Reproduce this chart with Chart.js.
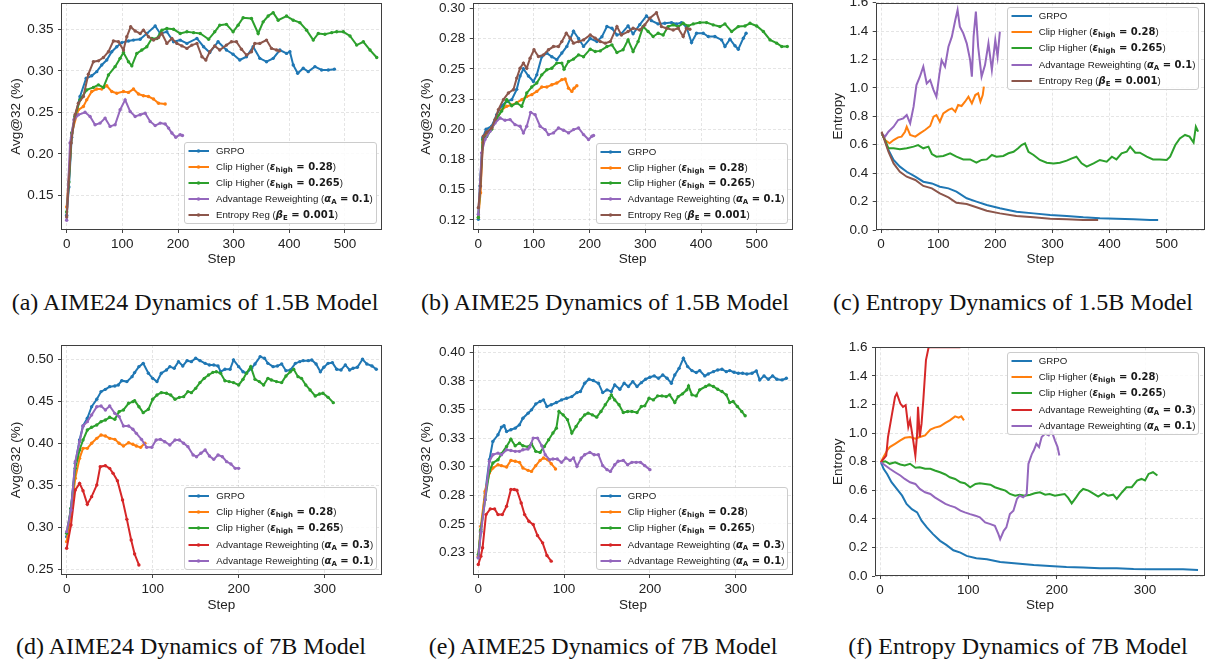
<!DOCTYPE html>
<html><head><meta charset="utf-8">
<script src="https://cdn.jsdelivr.net/npm/chart.js@4.4.1/dist/chart.umd.min.js"></script>
<style>
html,body{margin:0;padding:0;background:#fff;}
#fig{position:relative;width:1212px;height:666px;overflow:hidden;background:#fff;}
canvas{position:absolute;}
.legend{position:absolute;box-sizing:border-box;border:1px solid #cccccc;border-radius:3px;background:rgba(255,255,255,0.85);font-family:'Liberation Sans',Arial,sans-serif;font-size:9.7px;color:#1a1a1a;}
.lrow{position:absolute;left:0;height:16px;line-height:16px;white-space:nowrap;}
.lrow svg{position:absolute;left:3px;top:4px;}
.lrow .lt{position:absolute;left:31px;top:0;}
.mt{font-family:'DejaVu Sans',sans-serif;font-weight:bold;font-size:10px;}
.mt sub{font-size:7px;vertical-align:-2px;line-height:0;}
.cap{position:absolute;width:440px;text-align:center;font-family:'Liberation Serif','Times New Roman',serif;font-size:24px;line-height:24px;color:#111;white-space:nowrap;}
</style></head><body><div id="fig"></div>
<script>
// ---------- tick values / labels ----------
const xTicksLong = [0,100,200,300,400,500];
const xTicksShort = [0,100,200,300];
const yTicksA = [0.15,0.20,0.25,0.30,0.35];
const yLabelsA = ["0.15","0.20","0.25","0.30","0.35"];
const yTicksB = [0.125,0.15,0.175,0.2,0.225,0.25,0.275,0.3];
const yLabelsB = ["0.12","0.15","0.18","0.20","0.23","0.25","0.28","0.30"];
const yTicksEnt = [0,0.2,0.4,0.6,0.8,1.0,1.2,1.4,1.6];
const yLabelsEnt = ["0.0","0.2","0.4","0.6","0.8","1.0","1.2","1.4","1.6"];
const yTicksD = [0.25,0.30,0.35,0.40,0.45,0.50];
const yLabelsD = ["0.25","0.30","0.35","0.40","0.45","0.50"];
const yTicksE = [0.225,0.25,0.275,0.3,0.325,0.35,0.375,0.4];
const yLabelsE = ["0.23","0.25","0.28","0.30","0.33","0.35","0.38","0.40"];

// ---------- (a) AIME24, 1.5B ----------
const a_grpo_x = [0,4,9,15,24,35,45,54,63,72,81,90,99,111,120,132,144,159,168,180,192,204,216,234,246,257,272,287,299,311,323,335,347,359,371,383,395,401,407,415,425,434,446,458,470,481];
const a_grpo_y = [0.126,0.16,0.22,0.245,0.269,0.291,0.294,0.299,0.307,0.313,0.323,0.329,0.334,0.336,0.337,0.338,0.345,0.354,0.345,0.347,0.335,0.337,0.333,0.339,0.329,0.322,0.335,0.325,0.32,0.313,0.317,0.329,0.315,0.311,0.315,0.325,0.321,0.323,0.307,0.297,0.303,0.299,0.305,0.301,0.301,0.302];
const a_clip28_x = [0,9,21,30,36,45,54,63,72,81,90,102,111,120,129,138,147,156,165,177];
const a_clip28_y = [0.136,0.225,0.253,0.257,0.265,0.275,0.278,0.278,0.282,0.275,0.273,0.275,0.274,0.278,0.272,0.27,0.269,0.266,0.261,0.26];
const a_clip265_x = [0,4,9,15,24,36,48,57,66,75,87,96,102,111,117,126,135,144,153,162,171,180,192,204,216,228,240,255,266,275,287,299,308,317,332,344,353,362,371,380,395,407,419,431,443,452,464,476,485,497,509,521,533,545,557];
const a_clip265_y = [0.13,0.166,0.225,0.245,0.265,0.277,0.28,0.283,0.28,0.295,0.305,0.315,0.322,0.311,0.306,0.321,0.325,0.329,0.339,0.339,0.349,0.351,0.35,0.345,0.347,0.346,0.345,0.338,0.347,0.355,0.356,0.347,0.355,0.364,0.363,0.345,0.359,0.366,0.37,0.361,0.366,0.361,0.358,0.349,0.337,0.345,0.344,0.346,0.347,0.347,0.342,0.331,0.335,0.325,0.316];
const a_adv1_x = [0,6,13,21,33,42,51,60,69,78,87,96,105,114,123,132,141,150,159,168,177,183,189,196,204,208];
const a_adv1_y = [0.12,0.213,0.241,0.247,0.25,0.245,0.235,0.237,0.243,0.233,0.235,0.253,0.265,0.251,0.245,0.247,0.249,0.239,0.234,0.237,0.236,0.231,0.225,0.22,0.223,0.222];
const a_ent_x = [0,8,15,21,30,39,48,57,66,75,84,93,102,108,115,123,132,138,147,156,165,171,180,189,198,207,216,225,234,243,250,257,266,275,287,296,305,314,323,332,338,347,359,368,377,382];
const a_ent_y = [0.124,0.213,0.247,0.261,0.269,0.296,0.311,0.312,0.316,0.323,0.336,0.335,0.325,0.341,0.353,0.348,0.345,0.349,0.341,0.337,0.34,0.345,0.333,0.339,0.333,0.33,0.327,0.331,0.333,0.317,0.313,0.323,0.33,0.325,0.331,0.335,0.335,0.326,0.319,0.323,0.333,0.333,0.337,0.327,0.325,0.324];

// ---------- (b) AIME25, 1.5B ----------
const b_grpo_x = [0,3,8,14,24,33,42,51,60,69,75,81,90,99,105,114,123,132,141,150,159,171,180,189,201,213,222,231,240,249,257,269,278,290,302,311,323,335,347,356,365,374,383,392,404,413,425,437,443,452,461,467,476,481];
const b_grpo_y = [0.1255,0.153,0.193,0.2,0.2025,0.212,0.2195,0.223,0.2245,0.233,0.244,0.25,0.244,0.2395,0.245,0.26,0.263,0.26,0.2575,0.263,0.2685,0.281,0.275,0.2685,0.275,0.2725,0.2765,0.285,0.2835,0.278,0.279,0.2855,0.279,0.2865,0.2937,0.2898,0.2871,0.2876,0.2882,0.2871,0.2882,0.2843,0.2717,0.2794,0.2794,0.2767,0.2767,0.2739,0.2684,0.2745,0.269,0.2662,0.2753,0.2794];
const b_clip28_x = [0,4,8,15,24,33,42,51,60,69,78,87,96,105,114,123,132,141,150,156,162,168,172,177];
const b_clip28_y = [0.127,0.1475,0.189,0.197,0.201,0.208,0.216,0.219,0.22,0.222,0.2245,0.227,0.2286,0.2313,0.2349,0.2349,0.2368,0.2382,0.241,0.2415,0.234,0.2313,0.234,0.236];
const b_clip265_x = [0,8,15,24,33,42,51,60,69,78,87,96,105,114,123,132,141,150,154,162,171,180,189,201,210,219,231,240,249,260,269,278,287,296,305,314,323,332,341,350,359,368,377,386,398,410,422,434,443,455,467,479,488,500,512,524,536,545,555];
const b_clip265_y = [0.127,0.1915,0.194,0.2,0.209,0.215,0.2245,0.2195,0.2217,0.219,0.23,0.2349,0.2382,0.245,0.2492,0.2505,0.2547,0.2547,0.2497,0.256,0.258,0.2615,0.26,0.2662,0.2643,0.2648,0.2684,0.2698,0.2635,0.2657,0.2739,0.2643,0.2725,0.2849,0.2808,0.2767,0.2794,0.278,0.2849,0.2863,0.2849,0.2876,0.2854,0.2871,0.2882,0.2882,0.2863,0.2849,0.2871,0.2808,0.2849,0.2854,0.2876,0.2854,0.2808,0.2739,0.2712,0.2684,0.2684];
const b_adv1_x = [0,6,12,21,30,39,48,57,66,75,81,87,94,102,111,120,126,135,144,153,162,171,180,189,198,204,207];
const b_adv1_y = [0.1297,0.1805,0.1915,0.1984,0.2052,0.2093,0.2074,0.208,0.2038,0.2025,0.197,0.2025,0.214,0.2121,0.2025,0.1997,0.1956,0.197,0.2011,0.1992,0.197,0.1997,0.2011,0.1956,0.1915,0.1942,0.1948];
const b_ent_x = [0,4,9,15,24,30,36,45,54,63,69,75,81,87,93,100,108,117,126,135,144,150,158,165,171,180,189,201,210,219,228,237,249,257,269,278,290,299,308,320,329,338,350,359,368,374,380];
const b_ent_y = [0.1352,0.153,0.1942,0.1975,0.2011,0.208,0.2162,0.2245,0.23,0.2327,0.2423,0.2505,0.2547,0.2505,0.2588,0.2657,0.2602,0.2615,0.2657,0.2684,0.2684,0.2725,0.2794,0.2753,0.2712,0.2725,0.2739,0.278,0.2753,0.2725,0.2712,0.2725,0.2849,0.278,0.2808,0.2835,0.2821,0.2863,0.2918,0.2964,0.2849,0.2835,0.2821,0.2835,0.2767,0.2835,0.2827];

// ---------- (c) Entropy, 1.5B ----------
const c_grpo_x = [1,7,13,22,33,45,60,74,89,103,118,132,150,167,185,208,237,267,296,325,354,383,412,442,471,485];
const c_grpo_y = [0.68,0.633,0.563,0.493,0.446,0.41,0.375,0.34,0.328,0.305,0.293,0.27,0.223,0.2,0.176,0.153,0.129,0.117,0.106,0.099,0.089,0.082,0.08,0.075,0.07,0.07];
const c_clip28_x = [1,7,15,22,30,36,42,45,51,60,68,77,86,92,97,103,109,118,124,130,135,141,147,153,159,165,170,174,178,180];
const c_clip28_y = [0.68,0.633,0.61,0.633,0.652,0.657,0.692,0.727,0.669,0.657,0.68,0.704,0.732,0.798,0.809,0.762,0.821,0.845,0.856,0.833,0.88,0.873,0.903,0.938,0.891,0.95,0.962,0.903,0.95,1.009];
const c_clip265_x = [1,7,13,22,33,45,57,65,74,83,89,97,109,121,132,144,156,167,176,185,194,202,214,223,232,240,246,252,258,267,278,290,302,313,325,334,342,351,360,372,383,395,404,412,421,430,436,445,453,465,476,488,500,506,515,523,532,540,547,551,555];
const c_clip265_y = [0.68,0.633,0.575,0.575,0.568,0.575,0.587,0.598,0.575,0.587,0.535,0.516,0.521,0.54,0.516,0.497,0.497,0.474,0.493,0.497,0.528,0.516,0.521,0.54,0.551,0.575,0.598,0.61,0.551,0.528,0.493,0.474,0.469,0.474,0.488,0.504,0.516,0.469,0.446,0.469,0.493,0.481,0.516,0.497,0.54,0.551,0.587,0.544,0.544,0.516,0.497,0.497,0.493,0.516,0.598,0.645,0.669,0.657,0.615,0.727,0.692];
const c_adv1_x = [1,7,13,22,30,39,45,51,57,62,68,74,80,86,92,97,102,106,112,118,124,130,134,138,144,150,156,159,162,166,170,176,182,188,194,200,204,208];
const c_adv1_y = [0.68,0.657,0.692,0.727,0.774,0.786,0.809,0.751,0.868,1.02,1.079,1.15,1.032,1.056,0.985,0.938,1.091,1.196,1.15,1.29,1.361,1.478,1.548,1.431,1.384,1.314,1.196,1.079,1.361,1.537,1.29,1.079,1.161,1.314,1.126,1.337,1.22,1.396];
const c_ent_x = [1,7,13,22,33,45,60,74,89,103,118,132,150,167,185,208,237,267,296,325,354,380];
const c_ent_y = [0.692,0.622,0.551,0.469,0.41,0.375,0.352,0.31,0.293,0.258,0.23,0.192,0.183,0.16,0.136,0.117,0.099,0.089,0.08,0.075,0.07,0.07];

// ---------- (d) AIME24, 7B ----------
const d_grpo_x = [0,5,10,15,19,24,29,35,40,45,50,56,60,64,70,76,79,84,89,95,100,105,110,116,120,125,130,135,140,145,150,155,161,166,171,176,179,184,190,194,200,205,209,215,219,225,230,234,240,245,250,255,260,266,271,275,281,285,290,295,299,304,309,314,319,324,329,333,338,344,349,355,360];
const d_grpo_y = [0.2892,0.3229,0.3764,0.4041,0.4208,0.4299,0.4437,0.4525,0.4616,0.4643,0.4675,0.4683,0.4695,0.4746,0.4735,0.4794,0.4842,0.4913,0.4952,0.4834,0.4774,0.4735,0.4834,0.4873,0.4913,0.4893,0.4972,0.4921,0.4984,0.4972,0.5012,0.4984,0.4952,0.4933,0.4933,0.4921,0.4853,0.4881,0.4881,0.4992,0.4913,0.4853,0.4834,0.4893,0.4945,0.5032,0.5012,0.4952,0.4913,0.4921,0.4945,0.4865,0.4873,0.4952,0.4972,0.4984,0.4984,0.4992,0.4945,0.4853,0.4905,0.4952,0.496,0.4881,0.4873,0.4933,0.4873,0.4893,0.4905,0.5,0.4945,0.4921,0.4881];
const d_clip28_x = [0,5,10,15,19,24,29,35,40,45,50,56,61,66,72,77,81,86,91];
const d_clip28_y = [0.2833,0.317,0.3586,0.3823,0.3942,0.3942,0.4002,0.4061,0.4101,0.4089,0.4061,0.4049,0.4002,0.397,0.4009,0.399,0.397,0.3954,0.4002];
const d_clip265_x = [0,5,10,15,19,24,29,35,40,45,50,56,61,66,72,77,79,84,89,95,100,105,110,116,121,126,131,136,141,145,150,155,160,165,170,174,179,184,189,194,200,205,209,214,219,224,229,234,238,244,250,255,260,264,269,273,278,283,289,294,298,304,310];
const d_clip265_y = [0.2932,0.3229,0.3704,0.3922,0.4041,0.416,0.4192,0.422,0.4259,0.4279,0.4311,0.4287,0.4378,0.4398,0.4477,0.4497,0.4509,0.4437,0.4366,0.4406,0.4525,0.4576,0.4604,0.4596,0.4576,0.4525,0.4548,0.4556,0.4616,0.4604,0.4655,0.4723,0.4774,0.4814,0.4845,0.4853,0.4834,0.4746,0.4735,0.4723,0.4695,0.4762,0.4834,0.4913,0.4762,0.4735,0.4695,0.4774,0.4754,0.4735,0.4723,0.4802,0.4853,0.4881,0.4794,0.4774,0.4695,0.4636,0.4564,0.4588,0.4596,0.4548,0.4485];
const d_adv3_x = [0,5,10,15,19,24,29,35,39,45,50,54,59,65,70,75,79,84];
const d_adv3_y = [0.2754,0.3031,0.3447,0.3526,0.3439,0.3277,0.3368,0.3506,0.3724,0.3736,0.3704,0.3645,0.3558,0.3328,0.3098,0.2853,0.2686,0.2556];
const d_adv1_x = [0,5,10,15,19,24,29,35,40,45,50,56,61,66,72,77,81,87,93,99,104,109,114,120,126,131,136,141,147,151,156,161,166,171,176,181,186,191,196,200];
const d_adv1_y = [0.2952,0.3209,0.3784,0.4021,0.4208,0.4259,0.4338,0.4437,0.4445,0.4398,0.4445,0.4358,0.4319,0.4208,0.4208,0.4168,0.412,0.4049,0.3954,0.3954,0.4041,0.4049,0.4021,0.3982,0.4041,0.4041,0.4002,0.3962,0.3863,0.3843,0.3883,0.3922,0.3851,0.3811,0.3863,0.3843,0.3784,0.3756,0.3704,0.3704];

// ---------- (e) AIME25, 7B ----------
const e_grpo_x = [0,3,8,13,17,23,27,30,33,38,43,48,52,58,62,67,72,76,80,85,91,97,103,109,115,119,124,129,134,140,145,150,155,159,165,170,175,180,185,190,195,200,205,210,215,220,225,229,234,239,244,249,254,258,264,268,274,279,284,289,293,298,303,308,313,319,324,328,333,338,343,348,354,359];
const e_grpo_y = [0.2203,0.2436,0.277,0.3061,0.3221,0.3279,0.3346,0.3358,0.3308,0.3323,0.3337,0.3366,0.3424,0.3468,0.3497,0.3549,0.357,0.3584,0.3526,0.3541,0.3561,0.3584,0.3599,0.3613,0.3648,0.3657,0.373,0.3765,0.3753,0.373,0.3648,0.3672,0.3657,0.3715,0.3677,0.373,0.3701,0.3744,0.3701,0.3735,0.3765,0.3782,0.3794,0.3773,0.3802,0.3773,0.373,0.3802,0.386,0.3948,0.3875,0.384,0.3823,0.384,0.3794,0.3811,0.3831,0.3846,0.3852,0.3831,0.384,0.3826,0.3817,0.3817,0.3811,0.3817,0.3837,0.3759,0.3794,0.3765,0.3794,0.3765,0.3759,0.3773];
const e_clip28_x = [0,3,8,13,17,23,27,33,38,43,48,52,58,62,67,72,76,81,85,90];
const e_clip28_y = [0.2218,0.248,0.2785,0.2945,0.2988,0.3017,0.3009,0.2997,0.3055,0.3047,0.3038,0.2988,0.2968,0.2959,0.3009,0.3055,0.3076,0.3061,0.3026,0.298];
const e_clip265_x = [0,3,8,13,17,23,27,33,38,43,48,52,58,62,67,72,77,82,87,91,94,99,104,109,114,119,124,128,133,138,143,148,153,155,159,164,169,174,179,185,190,194,199,204,209,214,219,223,229,233,238,243,245,249,254,258,265,269,274,279,284,289,293,297,302,307,311];
const e_clip265_y = [0.2233,0.2451,0.2712,0.2959,0.3032,0.3061,0.3113,0.3177,0.3241,0.3183,0.3206,0.3183,0.3172,0.3201,0.3134,0.3125,0.3177,0.3235,0.3294,0.3337,0.3483,0.3453,0.341,0.3294,0.3352,0.341,0.3453,0.3468,0.3453,0.3433,0.3483,0.3541,0.3599,0.3628,0.3584,0.3541,0.3474,0.3483,0.3483,0.3474,0.3526,0.3532,0.3599,0.3584,0.3619,0.3619,0.3613,0.3628,0.3561,0.3613,0.3637,0.3672,0.3706,0.3628,0.3619,0.3672,0.3701,0.3715,0.3701,0.3677,0.3657,0.3628,0.3561,0.357,0.3526,0.3483,0.3445];
const e_adv3_x = [0,3,5,9,14,19,23,28,33,38,42,45,50,54,59,64,69,75,80,85];
const e_adv3_y = [0.2145,0.2218,0.2291,0.2581,0.2631,0.2631,0.2581,0.2581,0.2654,0.28,0.28,0.2794,0.2683,0.2581,0.2523,0.2494,0.2398,0.2334,0.2224,0.2174];
const e_adv1_x = [0,3,8,13,17,23,27,33,38,43,48,52,58,60,64,69,74,78,83,87,92,97,102,107,111,115,120,124,130,135,140,145,150,154,159,163,169,174,179,184,189,194,200];
const e_adv1_y = [0.2203,0.2422,0.2712,0.3047,0.3105,0.3119,0.3105,0.3148,0.3142,0.3134,0.3134,0.3148,0.3154,0.3172,0.325,0.325,0.3183,0.3105,0.3061,0.3067,0.3067,0.3038,0.3076,0.3055,0.3076,0.3003,0.3076,0.3105,0.3125,0.3105,0.3105,0.3009,0.2974,0.2959,0.3017,0.3047,0.3055,0.3017,0.3038,0.3038,0.3038,0.3009,0.2974];

// ---------- (f) Entropy, 7B ----------
const f_grpo_x = [1,4,8,13,19,25,30,36,42,47,53,60,68,75,83,91,98,109,121,136,155,174,192,211,230,249,268,287,306,325,343,360];
const f_grpo_y = [0.796,0.75,0.714,0.656,0.609,0.562,0.504,0.468,0.445,0.387,0.34,0.293,0.246,0.218,0.18,0.164,0.141,0.124,0.117,0.098,0.087,0.077,0.07,0.063,0.059,0.054,0.054,0.049,0.047,0.047,0.047,0.042];
const f_clip28_x = [1,4,8,11,17,23,28,34,40,45,51,57,62,68,74,79,85,89,92,95];
const f_clip28_y = [0.796,0.832,0.878,0.902,0.925,0.949,0.967,0.972,0.96,0.972,0.984,1.024,1.038,1.047,1.071,1.089,1.117,1.108,1.117,1.089];
const f_clip265_x = [1,6,11,17,23,28,34,40,45,51,57,62,68,74,79,85,91,96,102,108,113,119,125,130,136,142,147,153,158,164,170,175,181,187,192,198,204,209,213,217,222,226,230,236,242,247,253,258,264,268,274,279,285,291,296,300,304,309,314];
const f_clip265_y = [0.796,0.803,0.785,0.796,0.78,0.773,0.785,0.757,0.761,0.75,0.75,0.738,0.726,0.71,0.691,0.679,0.656,0.649,0.621,0.644,0.649,0.644,0.639,0.621,0.609,0.597,0.574,0.562,0.569,0.562,0.569,0.579,0.586,0.569,0.574,0.562,0.569,0.574,0.546,0.508,0.55,0.586,0.609,0.597,0.574,0.555,0.579,0.562,0.569,0.539,0.586,0.621,0.621,0.668,0.679,0.668,0.714,0.726,0.703];
const f_adv3_x = [1,4,7,9,13,17,19,23,26,29,32,34,37,40,42,43,45,47,49,52,55,70,91];
const f_adv3_y = [0.796,0.82,0.843,0.972,1.113,1.253,1.277,1.206,1.183,1.195,1.042,1.089,0.972,0.843,0.996,1.183,0.972,1.066,1.23,1.511,1.6,1.6,1.6];
const f_adv1_x = [1,6,11,17,23,28,34,40,45,51,57,62,68,74,79,85,91,96,102,108,113,119,125,130,134,136,140,143,147,151,155,158,162,166,168,172,174,177,180,183,187,191,194,198,201,203];
const f_adv1_y = [0.796,0.773,0.75,0.726,0.703,0.679,0.656,0.644,0.609,0.586,0.574,0.55,0.527,0.504,0.492,0.48,0.457,0.445,0.433,0.422,0.41,0.375,0.363,0.351,0.293,0.258,0.316,0.34,0.433,0.457,0.539,0.562,0.55,0.574,0.785,0.855,0.878,0.925,0.902,0.972,0.996,0.984,1.019,0.949,0.902,0.843];

// ---------- series styles & labels ----------
const SERIES = {
  grpo:   {color:'#1f77b4', name:'GRPO', html:'GRPO'},
  clip28: {color:'#ff7f0e', name:'Clip Higher (ε_high = 0.28)', html:'Clip Higher (<span class="mt"><i>ε</i><sub>high</sub> = 0.28</span>)'},
  clip265:{color:'#2ca02c', name:'Clip Higher (ε_high = 0.265)', html:'Clip Higher (<span class="mt"><i>ε</i><sub>high</sub> = 0.265</span>)'},
  adv3:   {color:'#d62728', name:'Advantage Reweighting (α_A = 0.3)', html:'Advantage Reweighting (<span class="mt"><i>α</i><sub>A</sub> = 0.3</span>)'},
  adv1:   {color:'#9467bd', name:'Advantage Reweighting (α_A = 0.1)', html:'Advantage Reweighting (<span class="mt"><i>α</i><sub>A</sub> = 0.1</span>)'},
  ent:    {color:'#8c564b', name:'Entropy Reg (β_E = 0.001)', html:'Entropy Reg (<span class="mt"><i>β</i><sub>E</sub> = 0.001</span>)'}
};

const FONT = "'Liberation Sans', Arial, Helvetica, sans-serif";
const GRID = 'rgba(0,0,0,0.13)';

const panels = [
  {canvas:{left:0,top:0,w:392,h:270}, plot:{l:61,t:3,r:382,b:230},
   x:{min:-10.2,max:566.5,ticks:xTicksLong}, y:{min:0.1082,max:0.3817,ticks:yTicksA,labels:yLabelsA},
   ytitle:'Avg@32 (%)', ytPad:8.6, xtPad:2.6, markers:true,
   series:[['grpo',a_grpo_x,a_grpo_y],['clip28',a_clip28_x,a_clip28_y],['clip265',a_clip265_x,a_clip265_y],['adv1',a_adv1_x,a_adv1_y],['ent',a_ent_x,a_ent_y]],
   legend:{left:184,top:142,w:193,h:82}, caption:{text:'(a) AIME24 Dynamics of 1.5B Model', cx:195, cy:302}},
  {canvas:{left:410,top:0,w:392,h:270}, plot:{l:472.7,t:3,r:792.7,b:230},
   x:{min:-10.1,max:564.7,ticks:xTicksLong}, y:{min:0.1167,max:0.3044,ticks:yTicksB,labels:yLabelsB},
   ytitle:'Avg@32 (%)', ytPad:8.6, xtPad:2.6, markers:true,
   series:[['grpo',b_grpo_x,b_grpo_y],['clip28',b_clip28_x,b_clip28_y],['clip265',b_clip265_x,b_clip265_y],['adv1',b_adv1_x,b_adv1_y],['ent',b_ent_x,b_ent_y]],
   legend:{left:595.7,top:142.7,w:192.3,h:81.5}, caption:{text:'(b) AIME25 Dynamics of 1.5B Model', cx:605, cy:302}},
  {canvas:{left:820,top:0,w:392,h:270}, plot:{l:875.7,t:2.7,r:1205,b:230},
   x:{min:-9.3,max:567,ticks:xTicksLong}, y:{min:0,max:1.6,ticks:yTicksEnt,labels:yLabelsEnt},
   ytitle:'Entropy', ytPad:9.9, xtPad:2.6, markers:false,
   series:[['grpo',c_grpo_x,c_grpo_y],['clip28',c_clip28_x,c_clip28_y],['clip265',c_clip265_x,c_clip265_y],['adv1',c_adv1_x,c_adv1_y],['ent',c_ent_x,c_ent_y]],
   legend:{left:1006.7,top:6.7,w:192.3,h:83.3}, caption:{text:'(c) Entropy Dynamics of 1.5B Model', cx:1013, cy:302}},
  {canvas:{left:0,top:340,w:392,h:280}, plot:{l:61,t:345,r:381.7,b:575},
   x:{min:-6.6,max:366.3,ticks:xTicksShort}, y:{min:0.2437,max:0.517,ticks:yTicksD,labels:yLabelsD},
   ytitle:'Avg@32 (%)', ytPad:8.6, xtPad:6.9, markers:true,
   series:[['grpo',d_grpo_x,d_grpo_y],['clip28',d_clip28_x,d_clip28_y],['clip265',d_clip265_x,d_clip265_y],['adv3',d_adv3_x,d_adv3_y],['adv1',d_adv1_x,d_adv1_y]],
   legend:{left:184.3,top:486.7,w:192.4,h:83.3}, caption:{text:'(d) AIME24 Dynamics of 7B Model', cx:191, cy:646}},
  {canvas:{left:410,top:340,w:392,h:280}, plot:{l:472.7,t:345,r:793.3,b:575},
   x:{min:-6.5,max:367.1,ticks:xTicksShort}, y:{min:0.2053,max:0.4064,ticks:yTicksE,labels:yLabelsE},
   ytitle:'Avg@32 (%)', ytPad:8.6, xtPad:6.9, markers:true,
   series:[['grpo',e_grpo_x,e_grpo_y],['clip28',e_clip28_x,e_clip28_y],['clip265',e_clip265_x,e_clip265_y],['adv3',e_adv3_x,e_adv3_y],['adv1',e_adv1_x,e_adv1_y]],
   legend:{left:595.7,top:486.7,w:192.3,h:83.3}, caption:{text:'(e) AIME25 Dynamics of 7B Model', cx:603, cy:646}},
  {canvas:{left:820,top:340,w:392,h:280}, plot:{l:875,t:347.3,r:1205,b:576},
   x:{min:-5.7,max:367.9,ticks:xTicksShort}, y:{min:0,max:1.6,ticks:yTicksEnt,labels:yLabelsEnt},
   ytitle:'Entropy', ytPad:9.9, xtPad:6.9, markers:false,
   series:[['grpo',f_grpo_x,f_grpo_y],['clip28',f_clip28_x,f_clip28_y],['clip265',f_clip265_x,f_clip265_y],['adv3',f_adv3_x,f_adv3_y],['adv1',f_adv1_x,f_adv1_y]],
   legend:{left:1006.7,top:351.7,w:192.3,h:83.3}, caption:{text:'(f) Entropy Dynamics of 7B Model', cx:1018, cy:646}}
];

const framePlugin = {
  id:'frame',
  afterDatasetsDraw(chart){
    const {ctx, chartArea:a} = chart;
    ctx.save();
    ctx.strokeStyle = '#3f3f3f';
    ctx.lineWidth = 1;
    const l = Math.round(a.left), t = Math.round(a.top), r = Math.round(a.right), b = Math.round(a.bottom);
    ctx.strokeRect(l + 0.5, t + 0.5, r - l - 1, b - t - 1);
    ctx.restore();
  }
};

function build(p){
  const fig = document.getElementById('fig');
  const cv = document.createElement('canvas');
  cv.width = p.canvas.w; cv.height = p.canvas.h;
  cv.style.left = p.canvas.left + 'px'; cv.style.top = p.canvas.top + 'px';
  cv.style.width = p.canvas.w + 'px'; cv.style.height = p.canvas.h + 'px';
  fig.appendChild(cv);
  const yW = p.plot.l - p.canvas.left;
  const xH = p.canvas.top + p.canvas.h - p.plot.b;
  const padTop = p.plot.t - p.canvas.top;
  const padRight = p.canvas.left + p.canvas.w - p.plot.r;
  const n = p.series.length;
  const datasets = p.series.map((s, i) => {
    const st = SERIES[s[0]];
    const len = Math.min(s[1].length, s[2].length);
    const data = [];
    for (let k = 0; k < len; k++) data.push({x: s[1][k], y: s[2][k]});
    return {label: st.name, data, borderColor: st.color, backgroundColor: st.color,
      borderWidth: 2, pointRadius: p.markers ? 1.7 : 0, pointBorderWidth: 0,
      pointBackgroundColor: st.color, pointHoverRadius: 0, tension: 0, fill: false, order: n - i};
  });
  new Chart(cv.getContext('2d'), {
    type: 'line',
    data: {datasets},
    options: {
      responsive: false, animation: false, devicePixelRatio: 1,
      layout: {padding: {top: padTop, right: padRight, left: 0, bottom: 0}},
      plugins: {legend: {display: false}, tooltip: {enabled: false}},
      events: [],
      scales: {
        x: {
          type: 'linear', min: p.x.min, max: p.x.max,
          afterBuildTicks: sc => { sc.ticks = p.x.ticks.map(v => ({value: v})); },
          afterFit: sc => { sc.height = xH; sc.paddingLeft = 0; sc.paddingRight = 0; },
          ticks: {callback: (v, i) => String(p.x.ticks[i]), font: {family: FONT, size: 13.5}, color: '#222', padding: 3, maxRotation: 0, autoSkip: false},
          grid: {color: GRID, lineWidth: 0.8, drawTicks: true, tickLength: 3, tickColor: '#444', tickWidth: 1},
          border: {display: false, dash: [3, 2]},
          title: {display: true, text: 'Step', font: {family: FONT, size: 13.5}, color: '#222', padding: {top: 0, bottom: p.xtPad}}
        },
        y: {
          type: 'linear', min: p.y.min, max: p.y.max,
          afterBuildTicks: sc => { sc.ticks = p.y.ticks.map(v => ({value: v})); },
          afterFit: sc => { sc.width = yW; sc.paddingTop = 0; sc.paddingBottom = 0; },
          ticks: {callback: (v, i) => p.y.labels[i], font: {family: FONT, size: 13.5}, color: '#222', padding: 4.5, autoSkip: false},
          grid: {color: GRID, lineWidth: 0.8, drawTicks: true, tickLength: 3, tickColor: '#444', tickWidth: 1},
          border: {display: false, dash: [3, 2]},
          title: {display: true, text: p.ytitle, font: {family: FONT, size: 13.5}, color: '#222', padding: {top: p.ytPad, bottom: 0}}
        }
      }
    },
    plugins: [framePlugin]
  });

  // legend (HTML, real text)
  const lg = document.createElement('div');
  lg.className = 'legend';
  lg.style.left = p.legend.left + 'px'; lg.style.top = p.legend.top + 'px';
  lg.style.width = p.legend.w + 'px'; lg.style.height = p.legend.h + 'px';
  const step = (p.legend.h - 2) / n;
  p.series.forEach((s, i) => {
    const st = SERIES[s[0]];
    const row = document.createElement('div');
    row.className = 'lrow';
    row.style.top = (i * step + (step - 16) / 2) + 'px';
    const marker = p.markers ? `<circle cx="10.5" cy="4" r="1.8" fill="${st.color}"/>` : '';
    row.innerHTML = `<svg width="22" height="8" viewBox="0 0 22 8"><line x1="0.5" y1="4" x2="21" y2="4" stroke="${st.color}" stroke-width="2"/>${marker}</svg><span class="lt">${st.html}</span>`;
    lg.appendChild(row);
  });
  fig.appendChild(lg);

  const cap = document.createElement('div');
  cap.className = 'cap';
  cap.textContent = p.caption.text;
  cap.style.left = (p.caption.cx - 220) + 'px';
  cap.style.top = (p.caption.cy - 12) + 'px';
  fig.appendChild(cap);
}

panels.forEach(build);
</script>
</body></html>
